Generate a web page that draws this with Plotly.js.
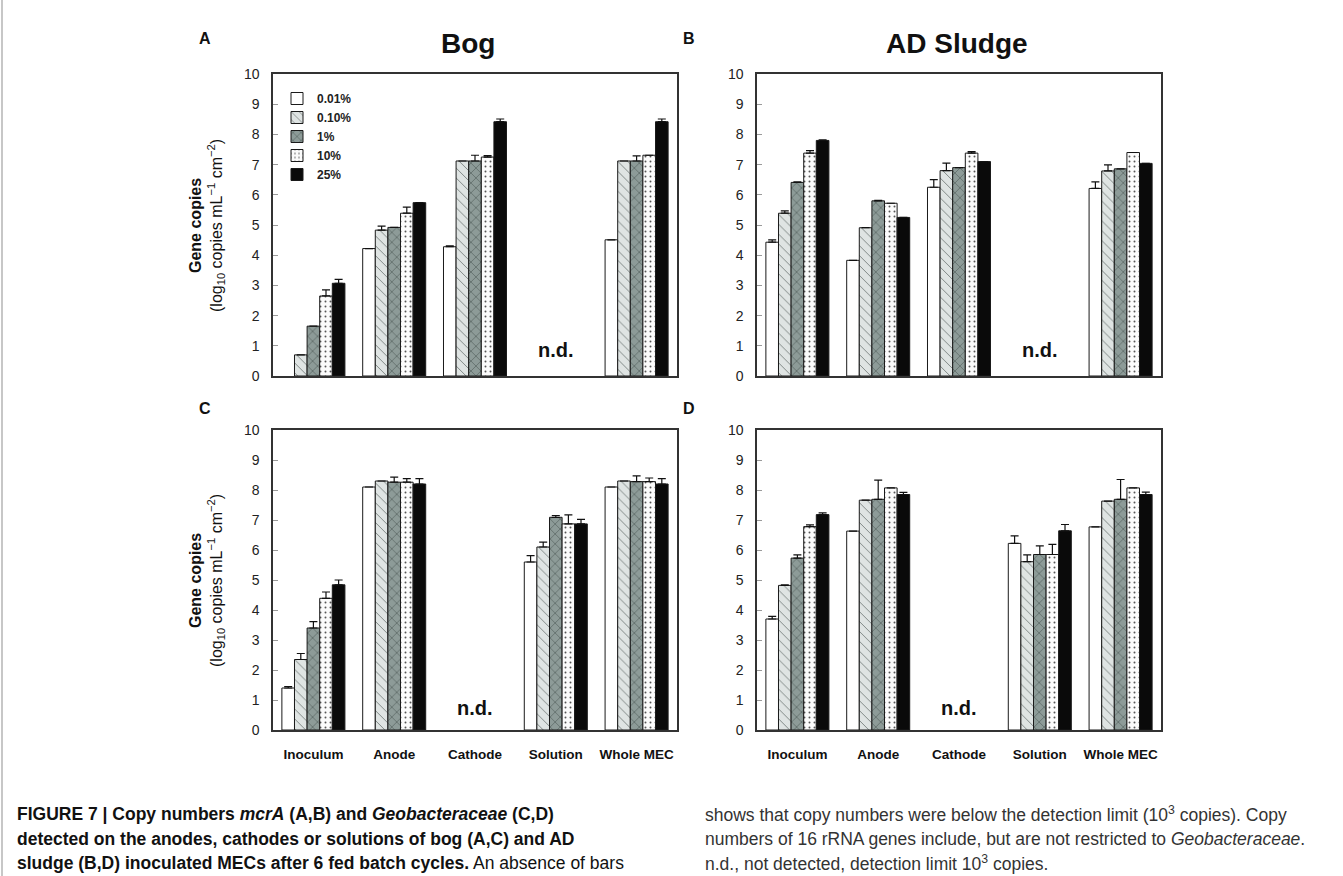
<!DOCTYPE html>
<html>
<head>
<meta charset="utf-8">
<script src="https://cdn.plot.ly/plotly-3.0.1.min.js"></script>
<style>
html,body{margin:0;padding:0;background:#fff;}
#chart{width:1343px;height:876px;}
</style>
</head>
<body>
<div id="chart"></div>
<script>
// ---------------- DATA ----------------
const categories = ['Inoculum', 'Anode', 'Cathode', 'Solution', 'Whole MEC'];
const seriesNames = ['0.01%', '0.10%', '1%', '10%', '25%'];

// Panel A: mcrA, Bog (log10 copies)
const bogMcrA_001 = [null, 4.22, 4.28, null, 4.51];
const bogMcrA_010 = [0.7, 4.83, 7.12, null, 7.12];
const bogMcrA_1   = [1.65, 4.92, 7.12, null, 7.12];
const bogMcrA_10  = [2.65, 5.39, 7.25, null, 7.31];
const bogMcrA_25  = [3.07, 5.74, 8.42, null, 8.42];
const bogMcrA_err_001 = [0, 0, 0.03, 0, 0];
const bogMcrA_err_010 = [0, 0.13, 0, 0, 0];
const bogMcrA_err_1   = [0, 0, 0.19, 0, 0.17];
const bogMcrA_err_10  = [0.2, 0.2, 0.05, 0, 0];
const bogMcrA_err_25  = [0.13, 0, 0.09, 0, 0.09];

// Panel B: mcrA, AD Sludge
const sludgeMcrA_001 = [4.43, 3.83, 6.25, null, 6.21];
const sludgeMcrA_010 = [5.39, 4.91, 6.8, null, 6.79];
const sludgeMcrA_1   = [6.41, 5.8, 6.9, null, 6.86];
const sludgeMcrA_10  = [7.38, 5.72, 7.38, null, 7.4];
const sludgeMcrA_25  = [7.8, 5.25, 7.1, null, 7.04];
const sludgeMcrA_err_001 = [0.08, 0, 0.25, 0, 0.22];
const sludgeMcrA_err_010 = [0.08, 0, 0.25, 0, 0.2];
const sludgeMcrA_err_1   = [0.02, 0.02, 0, 0, 0];
const sludgeMcrA_err_10  = [0.08, 0, 0.05, 0, 0];
const sludgeMcrA_err_25  = [0.02, 0, 0, 0, 0];

// Panel C: Geobacteraceae, Bog
const bogGeo_001 = [1.4, 8.1, null, 5.6, 8.1];
const bogGeo_010 = [2.35, 8.3, null, 6.1, 8.3];
const bogGeo_1   = [3.4, 8.26, null, 7.09, 8.28];
const bogGeo_10  = [4.39, 8.26, null, 6.87, 8.28];
const bogGeo_25  = [4.84, 8.2, null, 6.87, 8.2];
const bogGeo_err_001 = [0.05, 0, 0, 0.21, 0];
const bogGeo_err_010 = [0.2, 0, 0, 0.16, 0];
const bogGeo_err_1   = [0.21, 0.17, 0, 0.06, 0.19];
const bogGeo_err_10  = [0.21, 0.12, 0, 0.3, 0.12];
const bogGeo_err_25  = [0.16, 0.18, 0, 0.15, 0.18];

// Panel D: Geobacteraceae, AD Sludge
const sludgeGeo_001 = [3.7, 6.63, null, 6.22, 6.77];
const sludgeGeo_010 = [4.82, 7.66, null, 5.61, 7.63];
const sludgeGeo_1   = [5.73, 7.69, null, 5.85, 7.69];
const sludgeGeo_10  = [6.78, 8.07, null, 5.85, 8.07];
const sludgeGeo_25  = [7.18, 7.85, null, 6.64, 7.85];
const sludgeGeo_err_001 = [0.09, 0, 0, 0.25, 0];
const sludgeGeo_err_010 = [0.02, 0, 0, 0.23, 0];
const sludgeGeo_err_1   = [0.11, 0.64, 0, 0.29, 0.66];
const sludgeGeo_err_10  = [0.06, 0, 0, 0.34, 0];
const sludgeGeo_err_25  = [0.06, 0.07, 0, 0.21, 0.08];

const yTickVals = [0,1,2,3,4,5,6,7,8,9,10];

// ---------------- STYLES ----------------
const W = 1343, H = 876;
const px = v => v / W;
const py = v => 1 - v / H;
const FONT = '"Liberation Sans", Arial, Helvetica, sans-serif';

const seriesStyles = [
  {color:'#ffffff', pattern:{shape:''}},
  {color:'#dfe4e3', pattern:{shape:'\\', fgcolor:'#6f7775', bgcolor:'#dfe4e3', size:7, solidity:0.12}},
  {color:'#8d9b98', pattern:{shape:'x', fgcolor:'#34403d', bgcolor:'#8d9b98', size:7, solidity:0.12}},
  {color:'#fbfbfb', pattern:{shape:'.', fgcolor:'#555', bgcolor:'#fbfbfb', size:5, solidity:0.12}},
  {color:'#0a0a0a', pattern:{shape:''}}
];

const panels = [
  {xa:'x',  ya:'y',  vals:[bogMcrA_001,bogMcrA_010,bogMcrA_1,bogMcrA_10,bogMcrA_25],
   errs:[bogMcrA_err_001,bogMcrA_err_010,bogMcrA_err_1,bogMcrA_err_10,bogMcrA_err_25], legend:true},
  {xa:'x2', ya:'y2', vals:[sludgeMcrA_001,sludgeMcrA_010,sludgeMcrA_1,sludgeMcrA_10,sludgeMcrA_25],
   errs:[sludgeMcrA_err_001,sludgeMcrA_err_010,sludgeMcrA_err_1,sludgeMcrA_err_10,sludgeMcrA_err_25], legend:false},
  {xa:'x3', ya:'y3', vals:[bogGeo_001,bogGeo_010,bogGeo_1,bogGeo_10,bogGeo_25],
   errs:[bogGeo_err_001,bogGeo_err_010,bogGeo_err_1,bogGeo_err_10,bogGeo_err_25], legend:false},
  {xa:'x4', ya:'y4', vals:[sludgeGeo_001,sludgeGeo_010,sludgeGeo_1,sludgeGeo_10,sludgeGeo_25],
   errs:[sludgeGeo_err_001,sludgeGeo_err_010,sludgeGeo_err_1,sludgeGeo_err_10,sludgeGeo_err_25], legend:false}
];

const traces = [];
panels.forEach(p => {
  seriesNames.forEach((name, i) => {
    const st = seriesStyles[i];
    traces.push({
      type:'bar', name:name, x:categories, y:p.vals[i],
      xaxis:p.xa, yaxis:p.ya, legendgroup:name, showlegend:p.legend,
      marker:{color:st.color, pattern:st.pattern, line:{color:'#1a1a1a', width:1}},
      error_y:{type:'data', symmetric:false, array:p.errs[i], arrayminus:p.errs[i].map(()=>0),
               color:'#111', thickness:1.2, width:4},
      hoverinfo:'x+y+name'
    });
  });
});

// ---------------- LAYOUT ----------------
const colA = [px(273), px(677)];
const colB = [px(757), px(1161)];
const rowTop = [py(376), py(74)];
const rowBot = [py(730), py(430)];

function xAxis(domain, anchor, showLabels){
  return {domain:domain, anchor:anchor, type:'category', categoryorder:'array', categoryarray:categories,
    range:[-0.5,4.5], showline:true, mirror:true, linecolor:'#333', linewidth:1.6,
    ticks:'', showgrid:false, zeroline:false, showticklabels:showLabels, fixedrange:true,
    tickfont:{family:FONT, size:13.5, color:'#111', weight:'bold'}, ticklabelstandoff:11};
}
function yAxis(domain, anchor){
  return {domain:domain, anchor:anchor, range:[0,10], tickvals:yTickVals, ticktext:yTickVals.map(String),
    showline:true, mirror:true, linecolor:'#333', linewidth:1.6,
    ticks:'inside', ticklen:5, tickcolor:'#9a9a9a', tickwidth:1,
    showgrid:false, zeroline:false, fixedrange:true,
    tickfont:{family:FONT, size:14, color:'#222'}, ticklabelstandoff:9};
}

const ann = [];
function A(text, x, y, size, opts){
  ann.push(Object.assign({text:text, x:x, y:y, xref:'paper', yref:'paper', showarrow:false,
    xanchor:'center', yanchor:'middle', font:{family:FONT, size:size, color:'#111'}}, opts||{}));
}
// Panel titles
A('<b>Bog</b>', px(468), py(43), 28);
A('<b>AD Sludge</b>', px(957), py(43), 28);
// Panel letters
A('<b>A</b>', px(205), py(38), 16);
A('<b>B</b>', px(689), py(38), 16);
A('<b>C</b>', px(205), py(408), 16);
A('<b>D</b>', px(689), py(408), 16);
// y-axis titles
const yTitle = '<b>Gene copies</b><br>(log<sub>10</sub> copies mL<sup>\u22121</sup> cm<sup>\u22122</sup>)';
A(yTitle, px(207), py(226), 16, {textangle:-90});
A(yTitle, px(207), py(581), 16, {textangle:-90});
// n.d. labels (data coordinates)
ann.push({text:'<b>n.d.</b>', x:'Solution', y:0.85, xref:'x', yref:'y', showarrow:false, font:{family:FONT, size:20, color:'#111'}});
ann.push({text:'<b>n.d.</b>', x:'Solution', y:0.85, xref:'x2', yref:'y2', showarrow:false, font:{family:FONT, size:20, color:'#111'}});
ann.push({text:'<b>n.d.</b>', x:'Cathode', y:0.72, xref:'x3', yref:'y3', showarrow:false, font:{family:FONT, size:20, color:'#111'}});
ann.push({text:'<b>n.d.</b>', x:'Cathode', y:0.72, xref:'x4', yref:'y4', showarrow:false, font:{family:FONT, size:20, color:'#111'}});
// Caption
const capL = [
  '<b>FIGURE 7 | Copy numbers <i>mcrA</i> (A,B) and <i>Geobacteraceae</i> (C,D)</b>',
  '<b>detected on the anodes, cathodes or solutions of bog (A,C) and AD</b>',
  '<b>sludge (B,D) inoculated MECs after 6 fed batch cycles.</b> An absence of bars'
];
const capR = [
  'shows that copy numbers were below the detection limit (10<sup>3</sup> copies). Copy',
  'numbers of 16 rRNA genes include, but are not restricted to <i>Geobacteraceae</i>.',
  'n.d., not detected, detection limit 10<sup>3</sup> copies.'
];
const capY = [814, 839, 863];
capL.forEach((t,i)=>A(t, px(15), py(capY[i]), 17.5, {xanchor:'left'}));
capR.forEach((t,i)=>A(t, px(703), py(capY[i]), 17.5, {xanchor:'left', font:{family:FONT, size:17.5, color:'#333'}}));

const layout = {
  width:W, height:H, margin:{l:0, r:0, t:0, b:0},
  paper_bgcolor:'#ffffff', plot_bgcolor:'#ffffff',
  barmode:'group', bargap:0.22, bargroupgap:0,
  font:{family:FONT, color:'#111'},
  xaxis: xAxis(colA, 'y', false),
  yaxis: yAxis(rowTop, 'x'),
  xaxis2: xAxis(colB, 'y2', false),
  yaxis2: yAxis(rowTop, 'x2'),
  xaxis3: xAxis(colA, 'y3', true),
  yaxis3: yAxis(rowBot, 'x3'),
  xaxis4: xAxis(colB, 'y4', true),
  yaxis4: yAxis(rowBot, 'x4'),
  showlegend:true,
  legend:{x:px(277), y:py(84), xanchor:'left', yanchor:'top', bgcolor:'rgba(0,0,0,0)',
    font:{family:FONT, size:12, color:'#222', weight:'bold'}, traceorder:'normal', itemwidth:30},
  annotations: ann,
  shapes:[{type:'line', xref:'paper', yref:'paper', x0:px(2), x1:px(2), y0:0, y1:1, line:{color:'#b5b5b5', width:1.5}}]
};

Plotly.newPlot('chart', traces, layout, {displayModeBar:false, staticPlot:true});
</script>
</body>
</html>
